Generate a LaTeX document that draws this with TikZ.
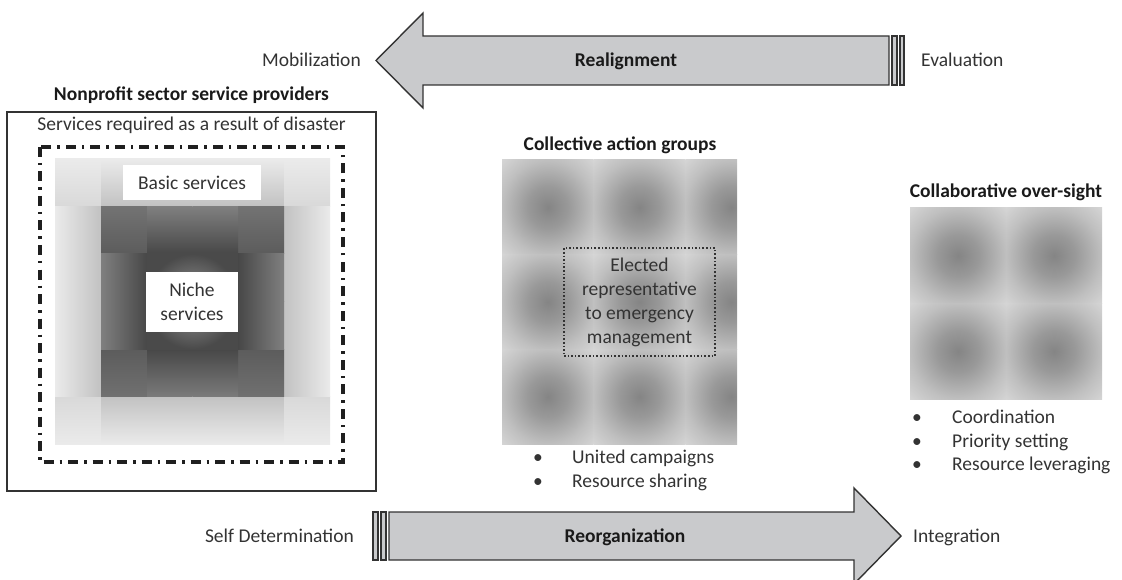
\documentclass[tikz,border=0pt]{standalone}
\usepackage{fontspec}
\setmainfont{Carlito}
\definecolor{arrowfill}{HTML}{C9CACC}
\definecolor{ink}{HTML}{333333}
\definecolor{inkdark}{HTML}{1A1A1A}
\colorlet{blobc}{black!48}
\colorlet{blobm}{black!40}
\colorlet{blobe}{black!25}
\colorlet{blobk}{black!16}
\colorlet{glowc}{black!40}
\colorlet{glowe}{black!71}
% soft dark spot used for every cell of the group grids
\pgfdeclareradialshading{blob}{\pgfpoint{0bp}{0bp}}{%
  color(0bp)=(blobc); color(11bp)=(blobm); color(25bp)=(blobe);
  color(36bp)=(blobk); color(50bp)=(blobk)}
% lighter core behind the niche box
\pgfdeclareradialshading{glow}{\pgfpoint{0bp}{0bp}}{%
  color(0bp)=(glowc); color(25bp)=(glowe); color(50bp)=(glowe)}
\begin{document}
\begin{tikzpicture}[x=1pt,y=-1pt,font=\fontsize{19.5}{24}\selectfont]
\tikzset{
  bigarrow/.style={fill=arrowfill,draw=black!80,line width=1.4pt,line join=miter},
  txt/.style={text=ink,inner sep=0pt},
  ttl/.style={text=inkdark,inner sep=0pt,font=\fontsize{19.5}{24}\selectfont\bfseries},
  whitebox/.style={fill=white,draw=none,text=ink,align=center,inner sep=0pt},
  dashdotframe/.style={draw=black!88,line width=3.2pt,dash pattern=on 10pt off 6pt on 2.5pt off 6pt},
  dotframe/.style={draw=black!80,line width=1.6pt,dotted,align=center,text=ink,inner sep=0pt},
}
\useasboundingbox (0,0) rectangle (1122,580);

% ---------- top arrow: Realignment ----------
\draw[bigarrow] (376,60.5) -- (423,13) -- (423,36) -- (889,36) -- (889,85)
  -- (423,85) -- (423,108) -- cycle;
\draw[bigarrow,line width=1.1pt] (892,36) rectangle (897,85);
\draw[bigarrow,line width=1.1pt] (900,36) rectangle (904,85);
\node[txt,anchor=base east] (mob) at (361,67) {Mobilization};
\node[ttl,anchor=base] (realign) at (626,67) {Realignment};
\node[txt,anchor=base west] (eval) at (921,67) {Evaluation};

% ---------- bottom arrow: Reorganization ----------
\draw[bigarrow] (901,536) -- (854,488) -- (854,512) -- (389,512) -- (389,560)
  -- (854,560) -- (854,584) -- cycle;
\draw[bigarrow,line width=1.1pt] (373,512) rectangle (378,560);
\draw[bigarrow,line width=1.1pt] (381,512) rectangle (386,560);
\node[txt,anchor=base east] (selfdet) at (354,542) {Self Determination};
\node[ttl,anchor=base] (reorg) at (625,542) {Reorganization};
\node[txt,anchor=base west] (integ) at (913,542) {Integration};

% ---------- nonprofit sector service providers ----------
\draw[black!80,line width=1.4pt] (7,112) rectangle (376,491);
\node[ttl,anchor=base] (nptitle) at (191.5,101) {Nonprofit sector service providers};
\node[txt,anchor=base] (required) at (191.5,131) {Services required as a result of disaster};

% outer light ring
\shade[top color=black!8,bottom color=black!15] (55,159) rectangle (101,206.5);
\shade[top color=black!8,bottom color=black!15] (284,159) rectangle (330,206.5);
\shade[top color=black!15,bottom color=black!8] (55,396.5) rectangle (101,444);
\shade[top color=black!15,bottom color=black!8] (284,396.5) rectangle (330,444);
\foreach \x in {101,147,192.5,238}{
  \shade[top color=black!8,bottom color=black!24] (\x,159) rectangle ++(45.75,47.5);
  \shade[top color=black!24,bottom color=black!8] (\x,396.5) rectangle ++(45.75,47.5);
}
\foreach \y in {206.5,254,301.5,349}{
  \shade[left color=black!8,right color=black!24] (55,\y) rectangle ++(46,47.5);
  \shade[left color=black!24,right color=black!8] (284,\y) rectangle ++(46,47.5);
}
% inner dark ring
\shade[top color=black!55,bottom color=black!64] (101,206.5) rectangle (147,254);
\shade[top color=black!55,bottom color=black!64] (238,206.5) rectangle (284,254);
\shade[top color=black!64,bottom color=black!56] (101,349) rectangle (147,396.5);
\shade[top color=black!64,bottom color=black!56] (238,349) rectangle (284,396.5);
\foreach \x in {147,192.5}{
  \shade[top color=black!50,bottom color=black!72] (\x,206.5) rectangle ++(45.5,47.5);
  \shade[top color=black!72,bottom color=black!52] (\x,349) rectangle ++(45.5,47.5);
}
\foreach \y in {254,301.5}{
  \shade[left color=black!50,right color=black!72] (101,\y) rectangle ++(46,47.5);
  \shade[left color=black!72,right color=black!50] (238,\y) rectangle ++(46,47.5);
}
% core
\shade[shading=glow] (147,254) rectangle (238,349);

\draw[dashdotframe] (40,147) rectangle (343,462);
\node[whitebox,minimum width=138pt,minimum height=35pt] (basic) at (192,182.5) {Basic services};
\node[whitebox,minimum width=92pt,minimum height=60pt] (niche) at (192,302) {Niche\\services};

% ---------- collective action groups ----------
\node[ttl,anchor=base] (cagtitle) at (620,151) {Collective action groups};
\begin{scope}
  \clip (502,160) rectangle (737,444);
  \foreach \i in {0,1,2}{
    \foreach \j in {0,1,2}{
      \shade[shading=blob] ({502+91.7*\i},{160+94.7*\j}) rectangle ++(91.7,94.7);
    }
  }
\end{scope}
\node[dotframe,minimum width=151pt,minimum height=108pt] (elected) at (639.5,302)
  {Elected\\representative\\to emergency\\management};
\node[txt,anchor=base] (cagb1) at (538,463) {•};
\node[txt,anchor=base west] (united) at (572,463) {United campaigns};
\node[txt,anchor=base] (cagb2) at (538,487) {•};
\node[txt,anchor=base west] (sharing) at (572,487) {Resource sharing};

% ---------- collaborative over-sight ----------
\node[ttl,anchor=base] (cotitle) at (1006,198) {Collaborative over-sight};
\foreach \i in {0,1}{
  \foreach \j in {0,1}{
    \shade[shading=blob] ({910+96*\i},{208+95.5*\j}) rectangle ++(96,95.5);
  }
}
\node[txt,anchor=base] (cob1) at (917,423) {•};
\node[txt,anchor=base west] (coord) at (952,423) {Coordination};
\node[txt,anchor=base] (cob2) at (917,447) {•};
\node[txt,anchor=base west] (priority) at (952,447) {Priority setting};
\node[txt,anchor=base] (cob3) at (917,470.5) {•};
\node[txt,anchor=base west] (leverage) at (952,470.5) {Resource leveraging};
\end{tikzpicture}
\end{document}
